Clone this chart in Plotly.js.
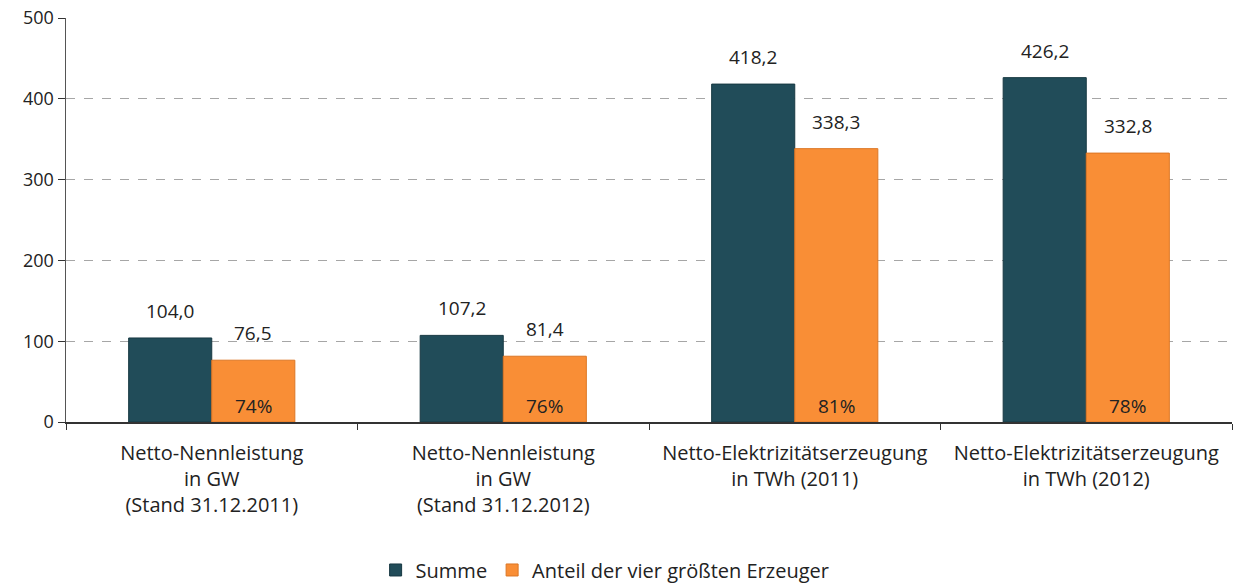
<!DOCTYPE html>
<html>
<head>
<meta charset="utf-8">
<script src="https://cdn.plot.ly/plotly-3.0.1.min.js"></script>
<style>html,body{margin:0;padding:0;background:#fff;}#chart{width:1240px;height:584px;}</style>
</head>
<body>
<div id="chart"></div>
<script>
const categories = [
  "Netto-Nennleistung<br>in GW<br>(Stand 31.12.2011)",
  "Netto-Nennleistung<br>in GW<br>(Stand 31.12.2012)",
  "Netto-Elektrizitätserzeugung<br>in TWh (2011)",
  "Netto-Elektrizitätserzeugung<br>in TWh (2012)"
];
const summe = [104.0, 107.2, 418.2, 426.2];
const anteil = [76.5, 81.4, 338.3, 332.8];
const shares = ["74%", "76%", "81%", "78%"];
const seriesNames = ["Summe", "Anteil der vier größten Erzeuger"];
const yTicks = [0, 100, 200, 300, 400, 500];

const FONT = "'Open Sans', sans-serif";
const fmt = v => v.toFixed(1).replace(".", ",");

const traces = [
  {type: "bar", name: seriesNames[0], x: categories, y: summe,
   marker: {color: "#214C59", line: {color: "#173842", width: 1}}, hoverinfo: "skip"},
  {type: "bar", name: seriesNames[1], x: categories, y: anteil,
   marker: {color: "#F98E36", line: {color: "#DC7624", width: 1}}, hoverinfo: "skip"}
];

const annotations = [];
categories.forEach((c, i) => {
  annotations.push({x: c, y: summe[i], xref: "x", yref: "y", text: fmt(summe[i]), showarrow: false,
    xshift: -41.5, yshift: 12, yanchor: "bottom", font: {family: FONT, size: 19, color: "#222"}});
  annotations.push({x: c, y: anteil[i], xref: "x", yref: "y", text: fmt(anteil[i]), showarrow: false,
    xshift: 41.5, yshift: 12, yanchor: "bottom", font: {family: FONT, size: 19, color: "#222"}});
  annotations.push({x: c, y: 0, xref: "x", yref: "y", text: shares[i], showarrow: false,
    xshift: 41.5, yshift: 1, yanchor: "bottom", font: {family: FONT, size: 19, color: "#222"}});
});

const layout = {
  width: 1240, height: 584,
  margin: {l: 66, r: 8, t: 18, b: 162},
  paper_bgcolor: "#fff", plot_bgcolor: "#fff",
  barmode: "group", bargap: 0.43, bargroupgap: 0,
  font: {family: FONT, size: 18, color: "#222"},
  showlegend: true,
  legend: {orientation: "h", x: 0.488, xanchor: "center", xref: "container",
           y: 0.024, yanchor: "middle", yref: "container",
           font: {family: FONT, size: 20, color: "#222"}, itemwidth: 30, traceorder: "normal"},
  xaxis: {type: "category", showline: true, linecolor: "#333", linewidth: 1.5,
          ticks: "outside", tickson: "boundaries", ticklen: 6, tickcolor: "#333",
          ticklabelstandoff: 12,
          showgrid: false, tickfont: {family: FONT, size: 20, color: "#222"}, fixedrange: true},
  yaxis: {range: [0, 500], tickvals: yTicks, showline: true, linecolor: "#555", linewidth: 1.5,
          ticks: "outside", ticklen: 7, tickcolor: "#333", zeroline: false,
          showgrid: true, gridcolor: "#A6A6A6", griddash: "dash", gridwidth: 1,
          tickfont: {family: FONT, size: 18, color: "#222"}, fixedrange: true},
  annotations: annotations
};

Plotly.newPlot("chart", traces, layout, {displayModeBar: false, staticPlot: true});
</script>
</body>
</html>
